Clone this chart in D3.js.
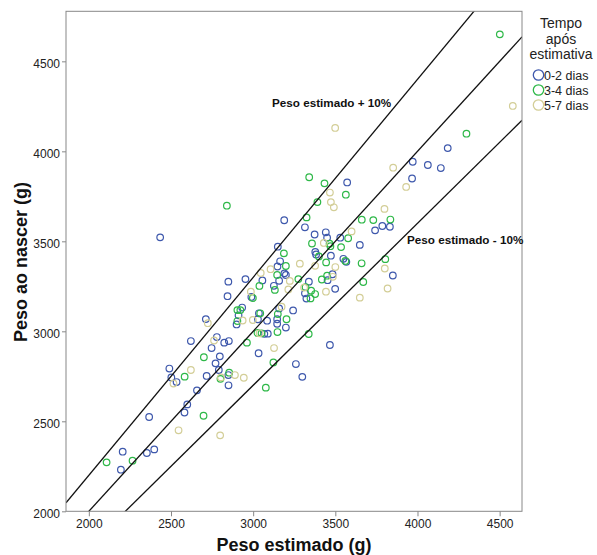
<!DOCTYPE html>
<html>
<head>
<meta charset="utf-8">
<script src="https://cdn.jsdelivr.net/npm/d3@7"></script>
<style>
  body { margin: 0; background: #fff; }
  svg { font-family: Arial, "Liberation Sans", sans-serif; }
</style>
</head>
<body>
<script>
// groups: tempo apos estimativa
var categories = ["0-2 dias", "3-4 dias", "5-7 dias"];
var colors = ["#3E58AC", "#2EB848", "#D3CE97"];

// [peso estimado, peso ao nascer]
var dias0_2 = [[2621,2946],[2490,2793],[2502,2744],[2534,2718],[2658,2672],[2599,2594],[2582,2549],[2367,2524],[2206,2331],[2353,2324],[2398,2344],[2195,2231],[2712,3068],[2933,3132],[2911,3089],[2899,3038],[3035,3100],[3068,2986],[3089,2987],[2779,2968],[2824,2937],[2852,2946],[2747,2907],[3033,2878],[2797,2861],[2771,2822],[2791,2785],[2717,2752],[2849,2757],[2850,2700],[2844,3195],[2989,3191],[3158,3127],[3146,3067],[3146,3042],[3199,3021],[3243,3116],[3085,3059],[3260,2818],[3299,2747],[2434,3522],[3189,3617],[3150,3470],[3164,3389],[3148,3360],[3190,3322],[3199,3313],[2953,3290],[2849,3276],[3056,3283],[3126,3253],[3315,3578],[3374,3538],[3442,3550],[3450,3520],[3530,3520],[3378,3441],[3383,3427],[3473,3420],[3549,3403],[3567,3386],[3483,3317],[3453,3284],[3339,3276],[3499,3236],[3315,3211],[3324,3182],[3467,2924],[3572,3827],[3786,3585],[3832,3581],[3742,3561],[3649,3480],[3850,3310],[3971,3942],[4063,3924],[4142,3907],[4184,4018],[3967,3849],[3029,3067],[3158,3281]];
var dias3_4 = [[2583,2748],[2108,2272],[2266,2281],[2904,3118],[2922,3118],[2904,3057],[3026,2991],[3051,2989],[2962,2937],[2700,2856],[2801,2736],[2854,2770],[2698,2531],[3132,3230],[3043,3100],[3150,3096],[3203,3067],[3148,2996],[3123,2827],[3077,2687],[2840,3698],[3187,3433],[3199,3363],[3038,3252],[3275,3290],[2998,3185],[3434,3822],[3564,3759],[3391,3718],[3325,3633],[3358,3488],[3465,3487],[3470,3473],[3535,3468],[3400,3416],[3444,3383],[3561,3391],[3450,3309],[3418,3288],[3319,3245],[3353,3226],[3377,3207],[3349,3183],[3338,2985],[3578,3517],[3661,3620],[3731,3618],[3835,3621],[3660,3378],[3804,3401],[3670,3274],[4501,4650],[4298,4098],[3341,3856],[3146,3313]];
var dias5_7 = [[2621,2785],[2515,2710],[2546,2450],[2724,3045],[2936,3060],[2998,3063],[2762,2949],[2889,2757],[2943,2742],[2799,2422],[2986,3220],[3173,3137],[3039,2989],[3127,2907],[2804,2744],[3106,3345],[3046,3324],[3223,3280],[3284,3376],[3214,3233],[3467,3771],[3473,3718],[3491,3689],[3430,3491],[3500,3357],[3377,3364],[3485,3303],[3310,3243],[3443,3220],[3599,3555],[3799,3680],[3801,3349],[3818,3238],[3649,3187],[3931,3802],[3852,3909],[3499,4130],[4580,4252]];

var xTicks = [2000, 2500, 3000, 3500, 4000, 4500];
var yTicks = [2000, 2500, 3000, 3500, 4000, 4500];
var refFactors = [1.1, 1.0, 0.9];
var refLabels = ["Peso estimado + 10%", "Peso estimado - 10%"];

var w = 597, h = 555;
var pLeft = 66, pRight = 522, pTop = 11.3, pBottom = 511.3;

var svg = d3.select("body").append("svg")
  .attr("width", w)
  .attr("height", h);

var xScale = d3.scaleLinear().domain([1861, 4636]).range([pLeft, pRight]);
var yScale = d3.scaleLinear().domain([2000, 4778]).range([pBottom, pTop]);

svg.append("clipPath").attr("id", "plot")
  .append("rect")
  .attr("x", pLeft).attr("y", pTop)
  .attr("width", pRight - pLeft).attr("height", pBottom - pTop);

// points
var groups = [dias0_2, dias3_4, dias5_7];
groups.forEach(function(g, i) {
  svg.append("g").selectAll("circle")
    .data(g)
    .enter()
    .append("circle")
    .attr("cx", function(d) { return xScale(d[0]); })
    .attr("cy", function(d) { return yScale(d[1]); })
    .attr("r", 3.3)
    .attr("fill", "none")
    .attr("stroke", colors[i])
    .attr("stroke-width", 1.2);
});

// reference lines y = k*x
var xd = xScale.domain();
svg.append("g").attr("clip-path", "url(#plot)")
  .selectAll("line")
  .data(refFactors)
  .enter()
  .append("line")
  .attr("x1", xScale(xd[0]))
  .attr("x2", xScale(xd[1]))
  .attr("y1", function(k) { return yScale(k * xd[0]); })
  .attr("y2", function(k) { return yScale(k * xd[1]); })
  .attr("stroke", "#111")
  .attr("stroke-width", 1.3);

// frame
svg.append("rect")
  .attr("x", pLeft).attr("y", pTop)
  .attr("width", pRight - pLeft).attr("height", pBottom - pTop)
  .attr("fill", "none")
  .attr("stroke", "#888")
  .attr("stroke-width", 1);

// axes
var xAxis = d3.axisBottom(xScale).tickValues(xTicks).tickSize(5).tickPadding(3).tickFormat(d3.format("d"));
var yAxis = d3.axisLeft(yScale).tickValues(yTicks).tickSize(4).tickPadding(2).tickFormat(d3.format("d"));

var gx = svg.append("g").attr("transform", "translate(0," + pBottom + ")").call(xAxis);
var gy = svg.append("g").attr("transform", "translate(" + pLeft + ",0)").call(yAxis);
[gx, gy].forEach(function(g) {
  g.select(".domain").remove();
  g.selectAll(".tick line").attr("stroke", "#888");
  g.selectAll(".tick text").attr("fill", "#222").style("font-size", "12px");
});
gy.selectAll(".tick text").attr("dy", "0.55em");

// reference labels
svg.append("text")
  .attr("x", 272).attr("y", 107)
  .style("font-size", "11.7px").style("font-weight", "bold")
  .attr("fill", "#111")
  .text(refLabels[0]);
svg.append("text")
  .attr("x", 407).attr("y", 244)
  .style("font-size", "11.7px").style("font-weight", "bold")
  .attr("fill", "#111")
  .text(refLabels[1]);

// axis titles
svg.append("text")
  .attr("x", 294).attr("y", 551)
  .attr("text-anchor", "middle")
  .style("font-size", "18px").style("font-weight", "bold")
  .attr("fill", "#111")
  .text("Peso estimado (g)");
svg.append("text")
  .attr("transform", "translate(27,262) rotate(-90)")
  .attr("text-anchor", "middle")
  .style("font-size", "18px").style("font-weight", "bold")
  .attr("fill", "#111")
  .text("Peso ao nascer (g)");

// legend
var legTitle = ["Tempo", "após", "estimativa"];
svg.append("g").selectAll("text")
  .data(legTitle)
  .enter()
  .append("text")
  .attr("x", 561)
  .attr("y", function(d, i) { return 28 + i * 15.5; })
  .attr("text-anchor", "middle")
  .style("font-size", "14px")
  .attr("fill", "#222")
  .text(function(d) { return d; });

var leg = svg.append("g").selectAll("g")
  .data(categories)
  .enter()
  .append("g")
  .attr("transform", function(d, i) { return "translate(538.5," + (75 + i * 15) + ")"; });
leg.append("circle")
  .attr("r", 5.2)
  .attr("fill", "none")
  .attr("stroke", function(d, i) { return colors[i]; })
  .attr("stroke-width", 1.3);
leg.append("text")
  .attr("x", 5.5).attr("y", 4.5)
  .style("font-size", "12.5px")
  .attr("fill", "#222")
  .text(function(d) { return d; });
</script>
</body>
</html>
